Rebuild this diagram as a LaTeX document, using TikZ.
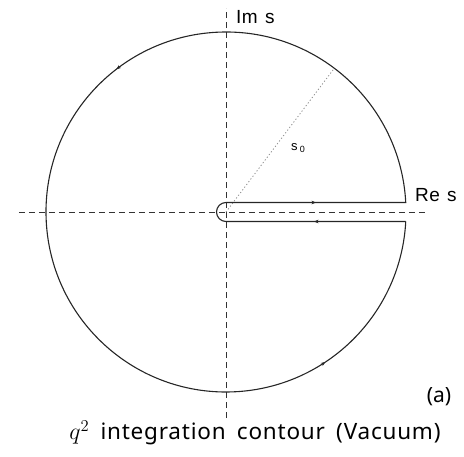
\documentclass[tikz,border=0pt]{standalone}
\usepackage{fontspec}
\setmainfont{Noto Sans}
\newfontfamily\labelfont[LetterSpace=2, WordSpace=1.3]{Liberation Sans}
\newfontfamily\captionfont[LetterSpace=3.5, WordSpace=1.7]{Noto Sans}
\usetikzlibrary{arrows.meta}

\begin{document}
\begin{tikzpicture}[
    x=1pt, y=1pt,
    axisline/.style={black!80, line width=0.6pt, dash pattern=on 6pt off 4pt},
    contour/.style={black!85, line width=1.1pt},
    radius line/.style={black!45, line width=0.8pt, dash pattern=on 1.2pt off 2.2pt},
    axislabel/.style={font=\labelfont\fontsize{19}{19}\selectfont, inner sep=0pt},
    tip/.style={-{Stealth[length=4.5pt, width=3.6pt]}, black!85, line width=0.6pt},
]
    \useasboundingbox (-226, -244) rectangle (238, 212);
    \def\R{180}
    \def\eps{9.5}
    \pgfmathsetmacro{\cut}{asin(\eps/\R)}
    \pgfmathsetmacro{\xend}{\R*cos(\cut)}

    % axes
    \coordinate (xl) at (-207, 0);
    \coordinate (xr) at (202, 0);
    \coordinate (yb) at (0, -206);
    \coordinate (yt) at (0, 204);
    \draw[axisline] (xl) -- (xr);
    \draw[axisline] (yb) -- (yt);
    \node[axislabel, anchor=west] (im) at (10, 195) {Im s};
    \node[axislabel, anchor=west] (re) at (189, 17) {Re s};

    % radius s_0
    \coordinate (o) at (0, 0);
    \coordinate (p) at (53:\R);
    \draw[radius line] (o) -- (p);
    \node[font=\labelfont\fontsize{13}{13}\selectfont, inner sep=0pt] (s0) at (72, 64) {s\,\raisebox{-0.25ex}{\fontsize{9}{9}\selectfont 0}};

    % keyhole contour
    \draw[contour] (\xend, -\eps) -- (0, -\eps)
        arc[start angle=270, end angle=90, radius=\eps]
        -- (\xend, \eps)
        arc[start angle=\cut, end angle=360-\cut, radius=\R];

    % direction marks
    \draw[tip] (86, \eps) -- (90, \eps);
    \draw[tip] (92, -\eps) -- (88, -\eps);
    \foreach \a in {126, 302}{
        \draw[tip] (\a:\R) arc[start angle=\a, end angle=\a+1.5, radius=\R];
    }

    % captions
    \node[font=\fontsize{21}{21}\selectfont, inner sep=0pt] (tag) at (213, -185) {(a)};
    \node[font=\captionfont\fontsize{22.5}{22.5}\selectfont, inner sep=0pt] (title) at (29, -221) {\scalebox{1.15}{$q^{2}$} integration contour (Vacuum)};
\end{tikzpicture}
\end{document}
